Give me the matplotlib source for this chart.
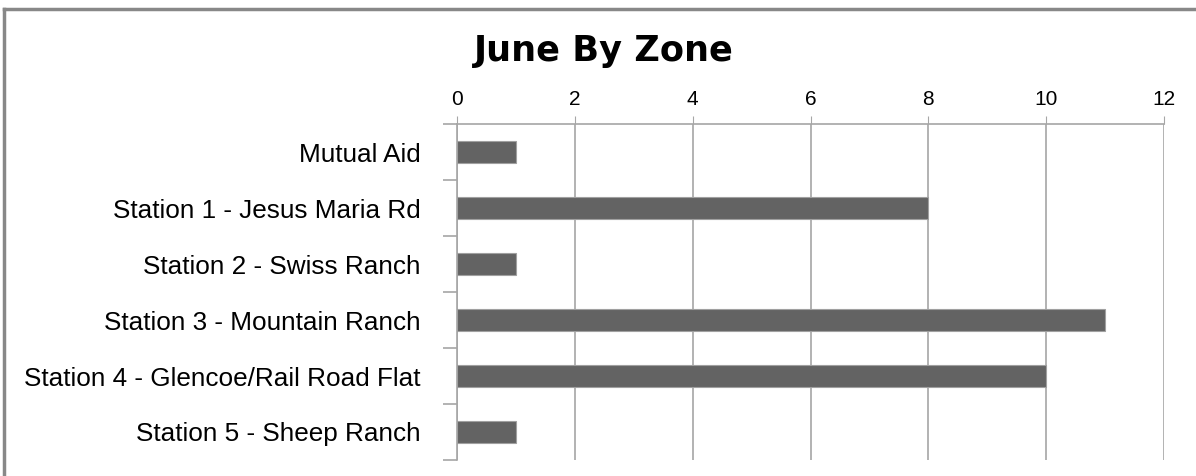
import numpy as np
import matplotlib.pyplot as plt
from matplotlib.lines import Line2D

# data
zones = ['Mutual Aid', 'Station 1 - Jesus Maria Rd', 'Station 2 - Swiss Ranch',
         'Station 3 - Mountain Ranch', 'Station 4 - Glencoe/Rail Road Flat',
         'Station 5 - Sheep Ranch']
calls = [1, 8, 1, 11, 10, 1]
x_ticks = [0, 2, 4, 6, 8, 10, 12]

W, H = 1196, 476
fig = plt.figure(figsize=(W / 100, H / 100), dpi=100)

# plot area in pixels: x 457..1164, y 124..460
ax = fig.add_axes([457 / W, 1 - 460 / H, (1164 - 457) / W, (460 - 124) / H])

y = np.arange(len(zones))
ax.barh(y, calls, height=0.4, color='#636363', edgecolor='#a0a0a0', linewidth=0.8, zorder=3)

ax.set_xlim(0, 12)
ax.set_ylim(len(zones) - 0.5, -0.5)
ax.set_xticks(x_ticks)
ax.xaxis.tick_top()
ax.tick_params(axis='x', length=6, color='#a6a6a6', pad=5, labelsize=15)
for lab in ax.get_xticklabels():
    lab.set_fontfamily('Liberation Sans')
ax.grid(axis='x', color='#a6a6a6', linewidth=1.2, zorder=0)

# category labels between tick marks at band edges
ax.set_yticks(y)
ax.set_yticklabels(zones, fontfamily='Liberation Sans', fontsize=18.8)
ax.tick_params(axis='y', length=0, pad=26)
ax.set_yticks(np.arange(len(zones) + 1) - 0.5, minor=True)
ax.tick_params(axis='y', which='minor', length=10, color='#a6a6a6', width=1.2)

for side in ['right', 'bottom']:
    ax.spines[side].set_visible(False)
ax.spines['top'].set_color('#a6a6a6')
ax.spines['left'].set_color('#a6a6a6')
ax.spines['top'].set_linewidth(1.2)
ax.spines['left'].set_linewidth(1.2)

fig.text(604 / W, 1 - 61 / H, 'June By Zone', ha='center', va='baseline',
         fontsize=25.3, fontweight='bold', fontfamily='DejaVu Sans')

# outer chart border (top and left visible)
fig.add_artist(Line2D([4 / W, 1], [1 - 9 / H, 1 - 9 / H], color='#888888', linewidth=2.5))
fig.add_artist(Line2D([4 / W, 4 / W], [0, 1 - 9 / H], color='#888888', linewidth=2.5))

fig.savefig('out.png', dpi=100)
